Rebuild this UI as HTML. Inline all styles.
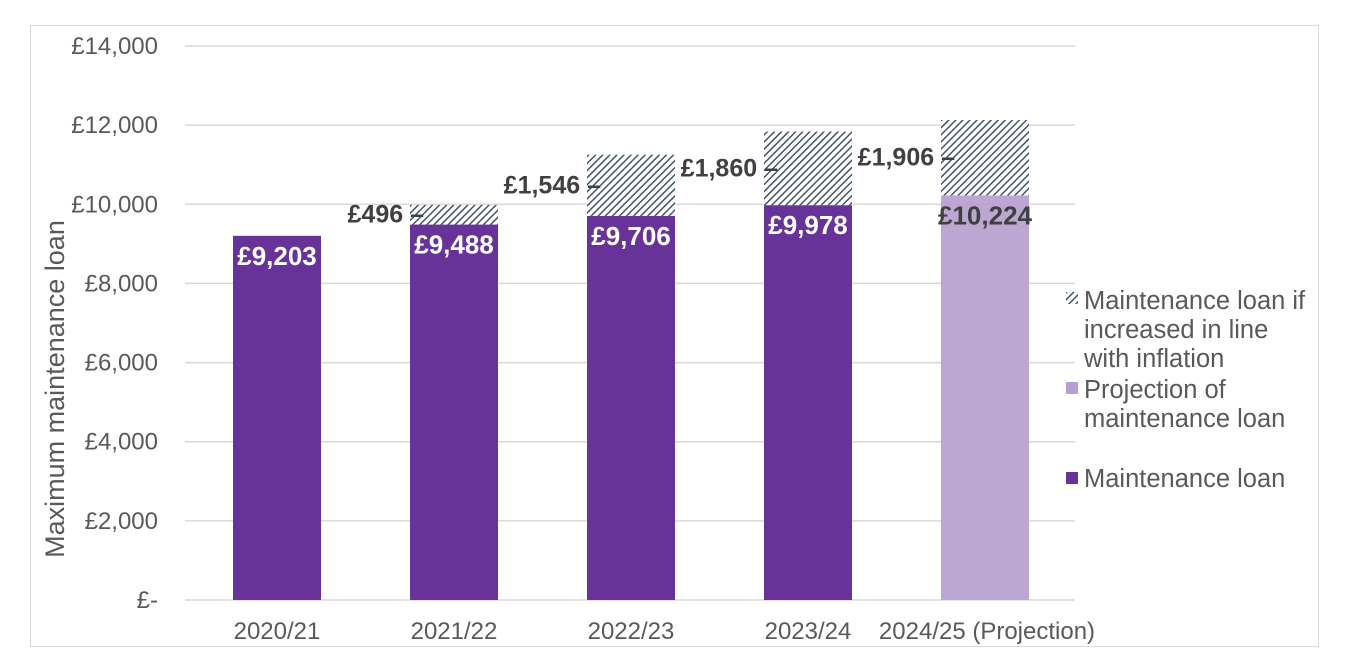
<!DOCTYPE html>
<html><head><meta charset="utf-8"><style>
body{margin:0;background:#fff;}
svg{display:block;font-family:"Liberation Sans",Arial,sans-serif;}
</style></head><body>
<svg id="chart" width="1348" height="670" viewBox="0 0 1348 670" xmlns="http://www.w3.org/2000/svg">
<defs>
<pattern id="hatch" patternUnits="userSpaceOnUse" width="5" height="5" patternTransform="rotate(45)">
<rect width="5" height="5" fill="#fff"/>
<rect x="0" y="0" width="1.5" height="5" fill="#44546a"/>
</pattern>
</defs>
<rect x="30.5" y="25.5" width="1288" height="621" fill="#fff" stroke="#d9d9d9"/>
<g id="grid"></g>
<g id="bars"></g>
<g id="labels"></g>
<text transform="translate(64,389) rotate(-90)" text-anchor="middle" font-size="27" fill="#595959">Maximum maintenance loan</text>
<g font-size="25.5" fill="#595959">
<g>
<rect x="1066" y="292" width="12" height="12" fill="url(#hatch)"/>
<text x="1084" y="309">Maintenance loan if</text>
<text x="1084" y="338">increased in line</text>
<text x="1084" y="367">with inflation</text>
</g>
<g>
<rect x="1066" y="382" width="12" height="12" fill="#b7a0d0"/>
<text x="1084" y="398">Projection of</text>
<text x="1084" y="427">maintenance loan</text>
</g>
<g>
<rect x="1066" y="472" width="12" height="12" fill="#673399"/>
<text x="1084" y="487">Maintenance loan</text>
</g>
</g>
</svg>
<script>
const categories=["2020/21","2021/22","2022/23","2023/24","2024/25 (Projection)"];
const loanValues=[9203,9488,9706,9978,10224];
const gapValues=[0,496,1546,1860,1906];
const isProjection=[false,false,false,false,true];
const yTicks=[0,2000,4000,6000,8000,10000,12000,14000];
const yTickLabels=["£-","£2,000","£4,000","£6,000","£8,000","£10,000","£12,000","£14,000"];

const NS="http://www.w3.org/2000/svg";
const plotL=185,plotR=1075,y0=600,yTop=46,yMax=14000;
const yS=v=>y0-(v/yMax)*(y0-yTop);
const band=177;
const xC=i=>277+band*i;
const barW=88;
function mk(tag,attrs,parent){const e=document.createElementNS(NS,tag);for(const k in attrs)e.setAttribute(k,attrs[k]);parent.appendChild(e);return e;}
const grid=document.getElementById('grid'),bars=document.getElementById('bars'),labels=document.getElementById('labels');
yTicks.forEach((t,i)=>{
  const y=yS(t);
  const l=mk('line',{x1:plotL,x2:plotR,y1:y,y2:y,stroke:'#d9d9d9','stroke-width':1.5},grid);
  
  
  const tx=mk('text',{x:158,y:y+8,'text-anchor':'end','font-size':24,fill:'#595959'},grid);
  tx.textContent=yTickLabels[i];
  
  
});
categories.forEach((c,i)=>{
  const cx=xC(i),x=cx-barW/2;
  const top=yS(loanValues[i]);
  const b=mk('rect',{x:x,y:top,width:barW,height:y0-top,fill:isProjection[i]?'#b7a0d0':'#673399'},bars);
  if(isProjection[i])b.setAttribute('fill-opacity','0.93');
  
  
  if(gapValues[i]>0){
    const gt=yS(loanValues[i]+gapValues[i]);
    const h=mk('rect',{x:x,y:gt,width:barW,height:top-gt,fill:'url(#hatch)'},bars);
    
    
    const gl=mk('text',{x:x+14,y:(gt+top)/2+8,'text-anchor':'end','font-size':25,'font-weight':'bold',fill:'#404040'},labels);
    gl.textContent='£'+gapValues[i].toLocaleString('en-GB')+' –';
    
    
  }
  const vl=mk('text',{x:cx,y:top+29,'text-anchor':'middle','font-size':26,'font-weight':'bold',fill:isProjection[i]?'#404040':'#fff'},labels);
  vl.textContent='£'+loanValues[i].toLocaleString('en-GB');
  
  
  const xl=mk('text',{x:cx+(isProjection[i]?2:0),y:639,'text-anchor':'middle','font-size':24,fill:'#595959'},labels);
  xl.textContent=c;
  
  
});
</script>
</body></html>
